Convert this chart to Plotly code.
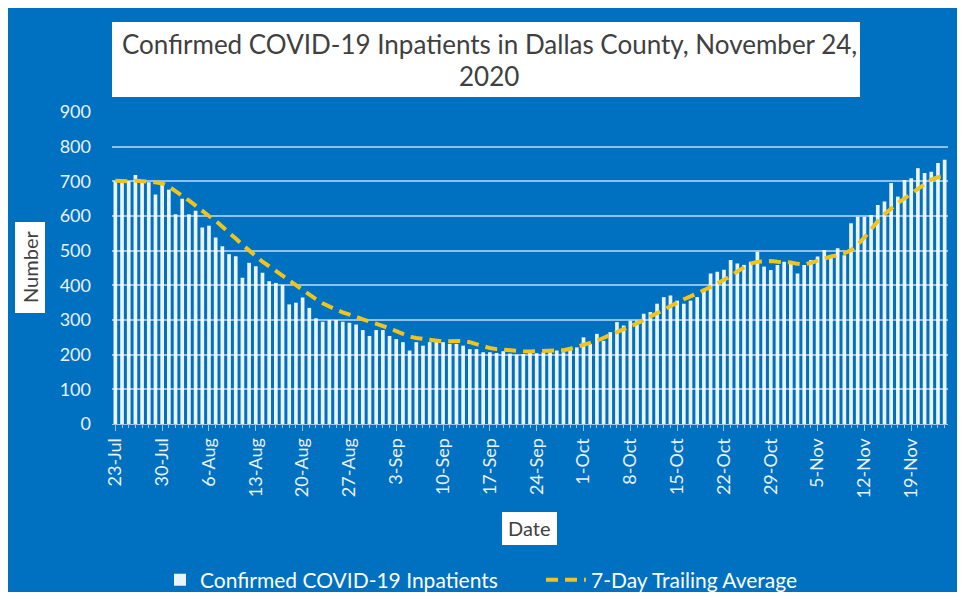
import pandas as pd
import plotly.graph_objects as go

start_date = "2020-07-23"
inpatients = [
    700, 695, 700, 718, 700, 697, 662, 690, 676, 605,
    650, 605, 615, 567, 572, 538, 513, 490, 484, 422,
    465, 455, 436, 412, 407, 402, 345, 350, 365, 335,
    305, 295, 300, 300, 295, 292, 287, 271, 254, 271,
    271, 254, 245, 236, 212, 236, 226, 236, 245, 236,
    231, 231, 226, 216, 216, 207, 207, 205, 210, 203,
    200, 202, 207, 204, 207, 207, 212, 207, 216, 221,
    250, 231, 260, 240, 265, 294, 284, 298, 298, 318,
    323, 347, 366, 371, 356, 347, 356, 366, 390, 434,
    439, 445, 473, 463, 459, 468, 497, 454, 444, 459,
    468, 468, 434, 459, 473, 483, 502, 487, 507, 487,
    579, 598, 598, 603, 632, 642, 695, 656, 704, 709,
    738, 724, 728, 753, 762,
]
trailing_avg = [
    702, 701, 700, 702, 701, 700, 697, 694, 685, 672,
    660, 645, 630, 614, 600, 586, 570, 552, 535, 517,
    500, 485, 468, 455, 441, 428, 414, 400, 388, 374,
    360, 348, 338, 330, 322, 314, 309, 302, 296, 290,
    283, 276, 268, 260, 252, 248, 245, 242, 240, 238,
    239, 240, 240, 236, 230, 224, 219, 216, 214, 212,
    211, 210, 209, 210, 210, 211, 211, 213, 217, 222,
    228, 234, 240, 249, 258, 266, 274, 282, 290, 300,
    310, 320, 330, 342, 352, 360, 368, 376, 385, 395,
    405, 415, 427, 440, 452, 463, 468, 470, 470, 468,
    468, 466, 462, 460, 465, 472, 478, 483, 487, 492,
    502, 518, 538, 562, 585, 605, 622, 637, 651, 665,
    680, 693, 705, 712, 715,
]
tick_dates = ["2020-07-23", "2020-07-30", "2020-08-06", "2020-08-13", "2020-08-20",
              "2020-08-27", "2020-09-03", "2020-09-10", "2020-09-17", "2020-09-24",
              "2020-10-01", "2020-10-08", "2020-10-15", "2020-10-22", "2020-10-29",
              "2020-11-05", "2020-11-12", "2020-11-19"]
tick_labels = ["23-Jul", "30-Jul", "6-Aug", "13-Aug", "20-Aug", "27-Aug", "3-Sep",
               "10-Sep", "17-Sep", "24-Sep", "1-Oct", "8-Oct", "15-Oct", "22-Oct",
               "29-Oct", "5-Nov", "12-Nov", "19-Nov"]
y_ticks = [0, 100, 200, 300, 400, 500, 600, 700, 800, 900]

dates = pd.date_range(start_date, periods=len(inpatients), freq="D")

# browser default body margin: keep the page exactly 965 x 600
OFF = 8
W, H = 965 - 2 * OFF, 600 - 2 * OFF
L = 112 - OFF
T = 112 - OFF
R = (965 - OFF) - 948
B = (600 - OFF) - 424
pw, ph = W - L - R, H - T - B


def px_x(x):  # page pixel -> paper coordinate
    return (x - OFF - L) / pw


def px_y(y):
    return (H - B - (y - OFF)) / ph


FONT = "Lato"
BLUE = "#0070C0"

fig = go.Figure()
fig.add_trace(go.Bar(
    x=dates, y=inpatients, name="Confirmed COVID-19 Inpatients",
    marker=dict(color="rgba(255,255,255,0.92)", line=dict(width=0)),
    legend="legend",
))
fig.add_trace(go.Scatter(
    x=dates, y=trailing_avg, name="7-Day Trailing Average", mode="lines",
    line=dict(color="#EFC41C", width=4, dash="12px,7px"),
    legend="legend2",
))

leg_font = dict(family=FONT, size=21, color="white")
fig.update_layout(
    width=W, height=H,
    margin=dict(l=L, r=R, t=T, b=B, autoexpand=False),
    paper_bgcolor="white",
    plot_bgcolor="rgba(0,0,0,0)",
    bargap=0.45,
    showlegend=True,
    legend=dict(orientation="h", x=px_x(160), xanchor="left", y=px_y(580), yanchor="middle",
                font=leg_font, bgcolor="rgba(0,0,0,0)", itemwidth=30),
    legend2=dict(orientation="h", x=px_x(541), xanchor="left", y=px_y(580), yanchor="middle",
                 font=leg_font, bgcolor="rgba(0,0,0,0)", itemwidth=40),
    font=dict(family=FONT),
    shapes=[
        dict(type="rect", xref="paper", yref="paper", layer="below",
             x0=px_x(5), x1=px_x(960), y0=px_y(594), y1=px_y(8),
             fillcolor=BLUE, line=dict(width=0)),
        dict(type="rect", xref="paper", yref="paper", layer="above",
             x0=px_x(112), x1=px_x(860), y0=px_y(97), y1=px_y(22),
             fillcolor="white", line=dict(width=0)),
        dict(type="rect", xref="paper", yref="paper", layer="above",
             x0=px_x(15), x1=px_x(45), y0=px_y(313), y1=px_y(222),
             fillcolor="white", line=dict(width=0)),
        dict(type="rect", xref="paper", yref="paper", layer="above",
             x0=px_x(502), x1=px_x(557), y0=px_y(545), y1=px_y(512),
             fillcolor="white", line=dict(width=0)),
    ],
    annotations=[
        dict(text="Confirmed COVID-19 Inpatients in Dallas County, November 24,",
             xref="paper", yref="paper", x=px_x(489), y=px_y(44), showarrow=False,
             xanchor="center", yanchor="middle",
             font=dict(family=FONT, size=26, color="#404040")),
        dict(text="2020",
             xref="paper", yref="paper", x=px_x(489), y=px_y(76), showarrow=False,
             xanchor="center", yanchor="middle",
             font=dict(family=FONT, size=26, color="#404040")),
        dict(text="Number", textangle=-90,
             xref="paper", yref="paper", x=px_x(30), y=px_y(267), showarrow=False,
             xanchor="center", yanchor="middle",
             font=dict(family=FONT, size=20, color="#404040")),
        dict(text="Date",
             xref="paper", yref="paper", x=px_x(529), y=px_y(528), showarrow=False,
             xanchor="center", yanchor="middle",
             font=dict(family=FONT, size=20, color="#404040")),
    ],
)

fig.update_xaxes(
    range=[dates[0] - pd.Timedelta(hours=12), dates[-1] + pd.Timedelta(hours=12)],
    tickmode="array", tickvals=pd.to_datetime(tick_dates), ticktext=tick_labels,
    tickangle=-90, tickfont=dict(family=FONT, size=18, color="#EAF2FA"),
    showgrid=False, showline=True, linecolor="#9DC3E6", linewidth=1,
    ticks="outside", ticklen=6, tickcolor="#9DC3E6",
    minor=dict(ticks="outside", ticklen=3, dtick=86400000, tickcolor="#9DC3E6", showgrid=False),
    zeroline=False, automargin=False,
)
fig.update_yaxes(
    range=[0, 900], tickmode="array", tickvals=y_ticks,
    tickfont=dict(family=FONT, size=18, color="#EAF2FA"),
    showgrid=True, gridcolor="#8FC0EC", gridwidth=1.5,
    zeroline=False, showline=False, ticks="", ticklabelstandoff=20, automargin=False,
)

fig.write_html("out.html")
